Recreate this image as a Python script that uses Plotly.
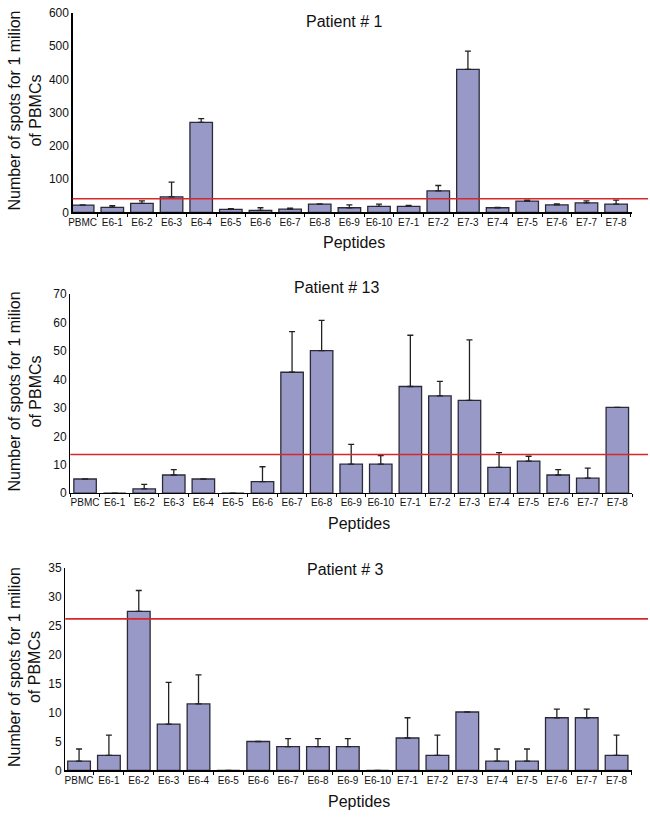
import plotly.graph_objects as go

W, H = 650, 818

categories = ["PBMC", "E6-1", "E6-2", "E6-3", "E6-4", "E6-5", "E6-6", "E6-7", "E6-8", "E6-9",
              "E6-10", "E7-1", "E7-2", "E7-3", "E7-4", "E7-5", "E7-6", "E7-7", "E7-8"]

titles = ["Patient # 1", "Patient # 13", "Patient # 3"]

p1_values = [22, 15, 27, 47, 271, 9, 6, 10, 25, 14, 18, 18, 65, 430, 14, 34, 23, 29, 25]
p1_err = [1, 5, 8, 44, 11, 2, 8, 3, 1, 9, 7, 3, 16, 55, 1, 3, 3, 6, 12]
p1_threshold = 41

p13_values = [5, 0, 1.5, 6.4, 5, 0, 4.1, 42.5, 50.1, 10.2, 10.2, 37.5, 34.2, 32.6, 9.1, 11.3, 6.4, 5.3, 30.2]
p13_err = [0, 0, 1.6, 1.9, 0, 0, 5.2, 14.3, 10.6, 7.0, 3.0, 18.0, 5.1, 21.3, 5.2, 1.7, 1.9, 3.5, 0]
p13_threshold = 13.6

p3_values = [1.6, 2.6, 27.5, 8.0, 11.5, 0, 5.0, 4.1, 4.1, 4.1, 0, 5.6, 2.6, 10.1, 1.6, 1.6, 9.1, 9.1, 2.6]
p3_err = [2.1, 3.5, 3.6, 7.2, 5.0, 0, 0, 1.4, 1.4, 1.4, 0, 3.5, 3.5, 0, 2.1, 2.1, 1.5, 1.5, 3.5]
p3_threshold = 26.2

y_ranges = [[0, 600], [0, 70], [0, 35]]
y_dticks = [100, 10, 5]

panels = [(p1_values, p1_err, p1_threshold),
          (p13_values, p13_err, p13_threshold),
          (p3_values, p3_err, p3_threshold)]

# pixel layout (left, right, top, bottom) of each plot area
px_boxes = [(69, 632, 6, 209), (66.7, 632, 292, 494.7), (61.7, 632.3, 570.7, 776.7)]
x_ranges = [[-0.34, 18.54], [-0.5, 18.5], [-0.46, 18.53]]
title_pos = [(343, 15), (335.5, 285), (343.7, 572)]
xlab_pos = [(352, 240), (357, 525), (357.5, 808)]

BAR = "#9999c8"
EDGE = "#2a2a38"
RED = "#d8262b"
FONT = "Liberation Sans, Arial, sans-serif"

fig = go.Figure()
layout = dict(
    width=W, height=H,
    margin=dict(l=0, r=0, t=0, b=0),
    paper_bgcolor="white", plot_bgcolor="white",
    showlegend=False,
    font=dict(family=FONT, color="#111111"),
    bargap=0.24,
    annotations=[], shapes=[],
)

for i, (vals, errs, thr) in enumerate(panels):
    n = "" if i == 0 else str(i + 1)
    xa, ya = "x" + n, "y" + n
    l, r, t, b = px_boxes[i]
    fig.add_trace(go.Bar(
        x=categories, y=vals, xaxis=xa, yaxis=ya,
        marker=dict(color=BAR, line=dict(color=EDGE, width=1.3)),
        error_y=dict(type="data", symmetric=False, array=errs, arrayminus=[0] * len(errs),
                     color="#222222", thickness=1.3, width=3),
    ))
    layout["xaxis" + n] = dict(
        domain=[l / W, r / W], anchor=ya, range=x_ranges[i],
        showline=True, linecolor="black", linewidth=1.2,
        ticks="outside", tickson="boundaries", ticklen=3, tickcolor="black",
        tickangle=0,
        tickfont=dict(size=10, family=FONT, color="#111111"),
        showgrid=False, zeroline=False, fixedrange=True,
    )
    layout["yaxis" + n] = dict(
        domain=[1 - b / H, 1 - t / H], anchor=xa, range=y_ranges[i], dtick=y_dticks[i],
        showline=True, linecolor="black", linewidth=1.2, ticks="",
        tickfont=dict(size=12, family=FONT, color="#111111"),
        showgrid=False, zeroline=False, fixedrange=True,
    )
    layout["shapes"].append(dict(
        type="line", xref="paper", yref=ya, x0=l / W, x1=648 / W, y0=thr, y1=thr,
        line=dict(color=RED, width=1.6), layer="above",
    ))
    tx, ty = title_pos[i]
    layout["annotations"].append(dict(
        text=titles[i], xref="paper", yref="paper", x=tx / W, y=1 - ty / H,
        xanchor="center", yanchor="middle", showarrow=False,
        font=dict(size=16, family=FONT, color="#111111"),
    ))
    lx, ly = xlab_pos[i]
    layout["annotations"].append(dict(
        text="Peptides", xref="paper", yref="paper", x=lx / W, y=1 - ly / H,
        xanchor="center", yanchor="middle", showarrow=False,
        font=dict(size=16, family=FONT, color="#111111"),
    ))
    layout["annotations"].append(dict(
        text="Number of spots for 1 milion<br>of PBMCs", xref="paper", yref="paper",
        x=21 / W, y=1 - ((t + b) / 2 - 2) / H, textangle=-90,
        xanchor="center", yanchor="middle", showarrow=False,
        font=dict(size=16, family=FONT, color="#111111"),
    ))

fig.update_layout(**layout)
fig.write_html(
    "out.html",
    config={"displayModeBar": False, "staticPlot": True},
    post_script="document.body.style.margin='0';document.body.style.overflow='hidden';",
)
